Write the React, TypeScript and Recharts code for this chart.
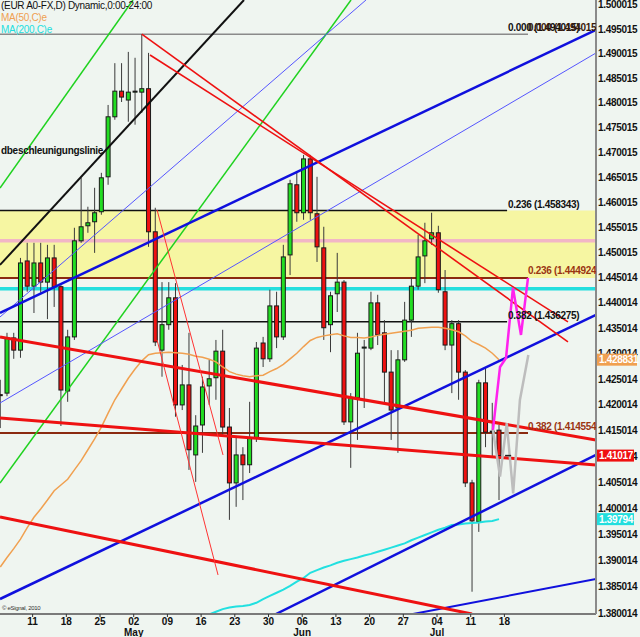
import React from 'react';
import { ComposedChart, Bar, Line, XAxis, YAxis, ReferenceLine, ReferenceArea } from 'recharts';

// daily bars, index -1 .. 73 (trading days)
const firstDay = -1;
const opens = [1.4220, 1.4223, 1.4331, 1.4307, 1.4483, 1.4433, 1.4479, 1.4441, 1.4489, 1.4432, 1.4227, 1.4333, 1.4523, 1.4553, 1.4561, 1.4581, 1.4651, 1.4772, 1.4824, 1.4806, 1.4822, 1.4822, 1.4829, 1.4541, 1.4307, 1.4357, 1.4410, 1.4200, 1.4239, 1.4103, 1.4161, 1.4237, 1.4253, 1.4305, 1.4157, 1.4049, 1.4103, 1.4084, 1.4136, 1.4321, 1.4290, 1.4394, 1.4333, 1.4495, 1.4635, 1.4579, 1.4687, 1.4577, 1.4509, 1.4357, 1.4418, 1.4441, 1.4167, 1.4214, 1.4311, 1.4311, 1.4400, 1.4341, 1.4264, 1.4194, 1.4288, 1.4366, 1.4433, 1.4493, 1.4527, 1.4539, 1.4422, 1.4317, 1.4359, 1.4264, 1.4049, 1.3974, 1.4243, 1.4147, 1.4151];
const highs = [1.4249, 1.4341, 1.4341, 1.4489, 1.4519, 1.4519, 1.4519, 1.4515, 1.4515, 1.4435, 1.4347, 1.4549, 1.4649, 1.4591, 1.4629, 1.4659, 1.4796, 1.4881, 1.4881, 1.4904, 1.4892, 1.494015, 1.4902, 1.4589, 1.4441, 1.4441, 1.4439, 1.4278, 1.4341, 1.4180, 1.4255, 1.4288, 1.4327, 1.4347, 1.4194, 1.4138, 1.4118, 1.4206, 1.4323, 1.4333, 1.4426, 1.4422, 1.4515, 1.4645, 1.4659, 1.4695, 1.4695, 1.4651, 1.4551, 1.4422, 1.4499, 1.4445, 1.4223, 1.4341, 1.4327, 1.4422, 1.4416, 1.4366, 1.4307, 1.4307, 1.4402, 1.4451, 1.4535, 1.4559, 1.4579, 1.4553, 1.4465, 1.4366, 1.4366, 1.4268, 1.4055, 1.4249, 1.4274, 1.4204, 1.4161];
const lows = [1.4155, 1.4217, 1.4290, 1.4292, 1.4422, 1.4380, 1.4420, 1.4368, 1.4392, 1.4159, 1.4206, 1.4327, 1.4519, 1.4539, 1.4499, 1.4575, 1.4635, 1.4766, 1.4802, 1.4762, 1.4756, 1.4780, 1.4511, 1.4315, 1.4255, 1.4347, 1.4177, 1.4190, 1.4074, 1.4051, 1.4107, 1.4200, 1.4210, 1.4138, 1.3978, 1.4003, 1.4016, 1.4068, 1.4128, 1.4274, 1.4284, 1.4311, 1.4327, 1.4455, 1.4561, 1.4565, 1.4565, 1.4481, 1.4327, 1.4303, 1.4382, 1.4161, 1.4078, 1.4132, 1.4194, 1.4307, 1.4317, 1.4204, 1.4132, 1.4107, 1.4284, 1.4333, 1.4426, 1.4439, 1.4515, 1.4420, 1.4307, 1.4223, 1.4210, 1.4041, 1.3841, 1.3955, 1.4118, 1.4097, 1.4016];
const closes = [1.4218, 1.4331, 1.4307, 1.4479, 1.4433, 1.4479, 1.4441, 1.4489, 1.4432, 1.4229, 1.4333, 1.4523, 1.4551, 1.4559, 1.4579, 1.4649, 1.4772, 1.4824, 1.4812, 1.4822, 1.4824, 1.4829, 1.4541, 1.4323, 1.4357, 1.4410, 1.4200, 1.4239, 1.4113, 1.4159, 1.4235, 1.4251, 1.4305, 1.4157, 1.4049, 1.4103, 1.4084, 1.4136, 1.4311, 1.4290, 1.4394, 1.4333, 1.4491, 1.4637, 1.4579, 1.4687, 1.4579, 1.4511, 1.4351, 1.4414, 1.4441, 1.4167, 1.4214, 1.4301, 1.4313, 1.4400, 1.4337, 1.4264, 1.4190, 1.4288, 1.4366, 1.4433, 1.4491, 1.4523, 1.4539, 1.4426, 1.4317, 1.4359, 1.4264, 1.4049, 1.3976, 1.4243, 1.4147, 1.4149, 1.41017];

// MA(50,C) from index -1, MA(200,C) from index 29
const ma50 = [1.3888, 1.3906, 1.3923, 1.3941, 1.3963, 1.3983, 1.3999, 1.4016, 1.4034, 1.4045, 1.4056, 1.4074, 1.4092, 1.4113, 1.4134, 1.4157, 1.4184, 1.4210, 1.4231, 1.4252, 1.4270, 1.4286, 1.4298, 1.4301, 1.4302, 1.4303, 1.4302, 1.4301, 1.4299, 1.4295, 1.4293, 1.4289, 1.4284, 1.4274, 1.4265, 1.4260, 1.4257, 1.4255, 1.4257, 1.4258, 1.4265, 1.4271, 1.4279, 1.4290, 1.4301, 1.4314, 1.4326, 1.4332, 1.4335, 1.4337, 1.4339, 1.4335, 1.4332, 1.4332, 1.4331, 1.4333, 1.4336, 1.4338, 1.4340, 1.4342, 1.4344, 1.4346, 1.4350, 1.4351, 1.4352, 1.4352, 1.4350, 1.4347, 1.4343, 1.4335, 1.4324, 1.4318, 1.4311, 1.4301, 1.428831];
const ma200Start = 29;
const ma200 = [1.3792, 1.3798, 1.3803, 1.3808, 1.3811, 1.3813, 1.3814, 1.3816, 1.3820, 1.3827, 1.3833, 1.3839, 1.3845, 1.3852, 1.3860, 1.3867, 1.3877, 1.3882, 1.3887, 1.3891, 1.3896, 1.3900, 1.3903, 1.3906, 1.3910, 1.3913, 1.3917, 1.3921, 1.3925, 1.3929, 1.3933, 1.3939, 1.3944, 1.3949, 1.3954, 1.3959, 1.3963, 1.3968, 1.3969, 1.3971, 1.3972, 1.3973, 1.3975, 1.3976, 1.39794];

// projections drawn past the last bar
const pinkX = [72.1, 73.15, 74.04, 75.07, 76.26, 77.3];
const pinkY = [1.41513, 1.42741, 1.42917, 1.44295, 1.43368, 1.44493];
const greyX = [72.1, 73.15, 74.15, 75.1, 76.1, 77.35];
const greyY = [1.41513, 1.4061, 1.41643, 1.4029, 1.42095, 1.42975];

const dayTicks = [3.8, 8.8, 13.8, 18.8, 23.8, 28.8, 33.8, 38.8, 43.8, 48.8, 53.8, 58.8, 63.8, 68.8, 73.8];
const dayLabels = ['11', '18', '25', '02', '09', '16', '23', '30', '06', '13', '20', '27', '04', '11', '18'];
const monthLabels: Record<number, string> = { 3: 'May', 8: 'Jun', 12: 'Jul' };

const yTickLabels = ['1.500015', '1.495015', '1.490015', '1.485015', '1.480015', '1.475015', '1.470015', '1.465015', '1.460015', '1.455015', '1.450015', '1.445014', '1.440014', '1.435014', '1.430014', '1.425014', '1.420014', '1.415014', '1.410014', '1.405014', '1.400014', '1.395014', '1.390014', '1.385014', '1.380014'];
const yTicks = yTickLabels.map(Number);

// fibonacci levels
const fibTop = 1.494015;
const fibBlack = [1.458343, 1.436275];
const fibBrown = [1.444924, 1.414554];
const pinkLevel = 1.4523;
const cyanLevel = 1.4428;
const lastClose = 1.41017;

// trendlines: [dayIndex, price] endpoints
const trendLines = [
  { from: [-1.04, 1.46286], to: [18.69, 1.50104], color: '#1fd21f', width: 1.5 },
  { from: [-1.04, 1.40489], to: [51.04, 1.50104], color: '#1fd21f', width: 1.5 },
  { from: [-1.04, 1.43722], to: [53.26, 1.50104], color: '#5555ff', width: 1 },
  { from: [-1.04, 1.42037], to: [87.39, 1.49018], color: '#5555ff', width: 1 },
  { from: [-1.04, 1.44751], to: [35.16, 1.50104], color: '#111111', width: 2 },
  { from: [-1.04, 1.43801], to: [87.39, 1.49489], color: '#1010dd', width: 2.5 },
  { from: [-1.04, 1.38272], to: [87.39, 1.43762], color: '#1010dd', width: 2.5 },
  { from: [39.91, 1.37988], to: [87.39, 1.41029], color: '#1010dd', width: 2.5 },
  { from: [60.24, 1.37988], to: [87.39, 1.38652], color: '#1010dd', width: 2 },
  { from: [-1.04, 1.43329], to: [87.39, 1.41319], color: '#ee1111', width: 3 },
  { from: [-1.04, 1.41746], to: [87.39, 1.40836], color: '#ee1111', width: 3 },
  { from: [-1.04, 1.39835], to: [68.99, 1.37988], color: '#ee1111', width: 3 },
  { from: [20.0, 1.494015], to: [83.23, 1.43231], color: '#ee1111', width: 1.6 },
  { from: [21.22, 1.48977], to: [83.23, 1.43624], color: '#ee1111', width: 1.6 },
  { from: [22.26, 1.45846], to: [32.05, 1.41029], color: '#ff3333', width: 1 },
  { from: [22.26, 1.4327], to: [31.31, 1.38728], color: '#ff3333', width: 1 },
];

const bars = opens.map((o, k) => ({
  i: firstDay + k,
  o,
  hi: highs[k],
  lo: lows[k],
  c: closes[k],
  range: [lows[k], highs[k]],
  ma50: ma50[k],
  ma200: firstDay + k >= ma200Start ? ma200[firstDay + k - ma200Start] : null,
}));
const pinkPath = pinkX.map((i, k) => ({ i, p: pinkY[k] }));
const greyPath = greyX.map((i, k) => ({ i, p: greyY[k] }));

const X_DOMAIN = [-1.04, 87.39];
const Y_DOMAIN = [1.37988, 1.50104];

const Candle = (props: any) => {
  const { x, y, width, height, payload } = props;
  if (x == null || y == null || !payload) return null;
  const cx = x + width / 2;
  const top = Math.min(y, y + height);
  const h = Math.abs(height);
  const span = Math.log(payload.hi) - Math.log(payload.lo);
  const at = (p: number) => top + (span > 0 ? (h * (Math.log(payload.hi) - Math.log(p))) / span : 0);
  const yo = at(payload.o);
  const yc = at(payload.c);
  const up = payload.c >= payload.o;
  return (
    <g>
      <line x1={cx} x2={cx} y1={top} y2={top + h} stroke="#3a3a3a" strokeWidth={1} />
      <rect x={cx - 2} y={Math.min(yo, yc)} width={4} height={Math.max(Math.abs(yc - yo), 1)}
        fill={up ? '#22dd22' : '#ee1111'} stroke="#1a1a1a" strokeWidth={1} />
    </g>
  );
};

const XTick = ({ x, y, payload }: any) => {
  const k = dayTicks.findIndex(t => Math.abs(t - payload.value) < 0.01);
  return (
    <g>
      <text x={x} y={y + 8} textAnchor="middle" fontSize={10} fontWeight="bold" fill="#111">{dayLabels[k]}</text>
      {monthLabels[k] && (
        <text x={x} y={y + 19} textAnchor="middle" fontSize={10} fontWeight="bold" fill="#111">{monthLabels[k]}</text>
      )}
    </g>
  );
};

const YTick = ({ x, y, payload }: any) => {
  const k = yTicks.findIndex(t => Math.abs(t - payload.value) < 1e-7);
  return (
    <text x={x} y={y} dy={3.5} textAnchor="start" fontSize={10} fontWeight="bold" letterSpacing={-0.3} fill="#111">
      {yTickLabels[k]}
    </text>
  );
};

const priceTag = (text: string, bg: string, w: number) => (props: any) => {
  const vb = props.viewBox || {};
  const x = (vb.x || 0) + (vb.width || 0) + 1;
  const y = vb.y || 0;
  return (
    <g>
      <rect x={x} y={y - 6} width={w} height={12} fill={bg} />
      <text x={x + 2} y={y + 3.5} fontSize={10} fontWeight="bold" letterSpacing={-0.3} fill="#fff">{text}</text>
    </g>
  );
};

const lbl = (left: number, top: number, color: string, bold = true, size = 10): React.CSSProperties => ({
  position: 'absolute', left, top, color, fontSize: size, lineHeight: '12px',
  fontWeight: bold ? 'bold' : 'normal', whiteSpace: 'nowrap', letterSpacing: -0.3,
});

const BROWN = '#9a3412';

export default function App() {
  return (
    <div style={{ position: 'relative', width: 640, height: 637, background: '#eff5f0', fontFamily: '"Liberation Sans", Arial, sans-serif', overflow: 'hidden' }}>
      <style>{'body{margin:0;background:#eff5f0}'}</style>
      <ComposedChart width={640} height={637} data={bars} margin={{ top: 0, right: 0, bottom: 0, left: 0 }}
        style={{ fontFamily: '"Liberation Sans", Arial, sans-serif' }}>
        <XAxis dataKey="i" type="number" domain={X_DOMAIN} allowDataOverflow ticks={dayTicks} interval={0}
          height={23} tickSize={3} tickMargin={0} tick={<XTick />}
          axisLine={{ stroke: '#7a7a7a', strokeWidth: 2 }} tickLine={{ stroke: '#333' }} />
        <YAxis orientation="right" type="number" scale="log" domain={Y_DOMAIN} allowDataOverflow
          ticks={yTicks} interval={0} width={44} tickSize={0} tickMargin={2} tick={<YTick />}
          tickLine={false} axisLine={{ stroke: '#8a8a8a', strokeWidth: 2 }} />

        <ReferenceArea y1={fibBrown[0]} y2={fibBlack[0]} fill="#f6f6a2" fillOpacity={1} stroke="none" ifOverflow="hidden" zIndex={10} />
        <ReferenceLine y={pinkLevel} stroke="#f2b6c6" strokeWidth={3.5} ifOverflow="hidden" zIndex={20} />
        <ReferenceLine y={cyanLevel} stroke="#22dede" strokeWidth={3.5} ifOverflow="hidden" zIndex={20} />
        <ReferenceLine segment={[{ x: X_DOMAIN[0], y: fibTop }, { x: 77.3, y: fibTop }]} stroke="#8a8a8a" strokeWidth={1.5} ifOverflow="hidden" zIndex={20} />
        {fibBlack.map(v => (
          <ReferenceLine key={'b' + v} segment={[{ x: X_DOMAIN[0], y: v }, { x: 74.2, y: v }]} stroke="#111" strokeWidth={1.5} ifOverflow="hidden" zIndex={20} />
        ))}
        {fibBrown.map(v => (
          <ReferenceLine key={'r' + v} segment={[{ x: X_DOMAIN[0], y: v }, { x: 77.3, y: v }]} stroke="#8b2a10" strokeWidth={2} ifOverflow="hidden" zIndex={20} />
        ))}

        <Bar dataKey="range" barSize={5} isAnimationActive={false} activeBar={false} shape={(p: any) => <Candle {...p} />} zIndex={300} />

        <Line dataKey="ma50" type="linear" stroke="#f0a050" strokeWidth={1.5} dot={false} activeDot={false} isAnimationActive={false} zIndex={400} />
        <Line dataKey="ma200" type="linear" stroke="#22e0e0" strokeWidth={2} dot={false} activeDot={false} connectNulls={false} isAnimationActive={false} zIndex={400} />

        {trendLines.map((t, k) => (
          <ReferenceLine key={'t' + k} segment={[{ x: t.from[0], y: t.from[1] }, { x: t.to[0], y: t.to[1] }]}
            stroke={t.color} strokeWidth={t.width} ifOverflow="hidden" zIndex={450} />
        ))}

        <Line data={greyPath} dataKey="p" type="linear" stroke="#bdbdbd" strokeWidth={2.5} dot={false} activeDot={false} isAnimationActive={false} zIndex={500} />
        <Line data={pinkPath} dataKey="p" type="linear" stroke="#ff22ee" strokeWidth={2.5} dot={false} activeDot={false} isAnimationActive={false} zIndex={500} />
        <ReferenceLine segment={[{ x: 73.9, y: lastClose }, { x: 74.8, y: lastClose }]} stroke="#222" strokeWidth={1.5} ifOverflow="hidden" zIndex={500} />

        <ReferenceLine y={ma50[ma50.length - 1]} stroke="none" ifOverflow="visible" label={priceTag('1.428831', '#f0a050', 40)} zIndex={2000} />
        <ReferenceLine y={lastClose} stroke="none" ifOverflow="visible" label={priceTag('1.41017', '#f01010', 37)} zIndex={2000} />
        <ReferenceLine y={ma200[ma200.length - 1]} stroke="none" ifOverflow="visible" label={priceTag('1.39794', '#22dede', 37)} zIndex={2000} />
      </ComposedChart>

      <div style={{ position: 'absolute', left: 0, top: 0, width: 596, height: 614, overflow: 'hidden', pointerEvents: 'none' }}>
        <span style={lbl(1, 0, '#111', false)}>(EUR A0-FX,D) Dynamic,0:00-24:00</span>
        <span style={lbl(1, 12, '#f0a050', false)}>MA(50,C)e</span>
        <span style={lbl(1, 24, '#22dede', false)}>MA(200,C)e</span>
        <span style={lbl(1, 145, '#111')}>dbeschleunigungslinie</span>
        <span style={lbl(508, 22, '#111')}>0.000 (1.494015)</span>
        <span style={lbl(528, 22, '#3a1a0a')}>0.000 (1.494015)</span>
        <span style={lbl(508, 199, '#111')}>0.236 (1.458343)</span>
        <span style={lbl(508, 310, '#111')}>0.382 (1.436275)</span>
        <span style={lbl(528, 265, BROWN)}>0.236 (1.444924)</span>
        <span style={lbl(528, 421, BROWN)}>0.382 (1.414554)</span>
        <span style={{ ...lbl(2, 605, '#333', false, 6), lineHeight: '7px' }}>© eSignal, 2010</span>
      </div>
    </div>
  );
}
